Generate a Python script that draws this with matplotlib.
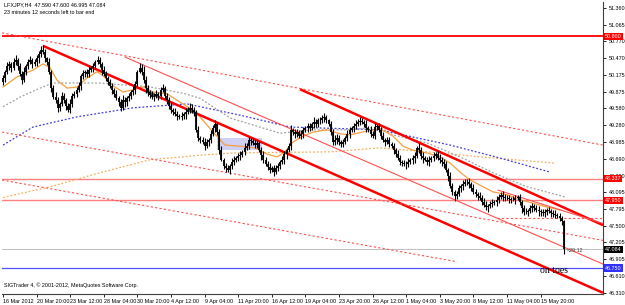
import matplotlib
matplotlib.use("Agg")
import matplotlib.pyplot as plt
import numpy as np
from matplotlib.patches import Rectangle
import matplotlib.transforms as mtransforms

plt.rcParams["font.family"] = ["Liberation Sans", "DejaVu Sans"]

# ---------------- data ----------------
closes = [
    50.12, 50.23, 50.33, 50.37, 50.30, 50.40, 50.44, 50.33, 50.19, 50.08, 50.23, 50.33, 50.40, 50.44, 50.37, 50.40, 50.47,
    50.55, 50.62, 50.58, 50.47, 50.40, 50.23, 49.94, 49.78, 49.73, 49.59, 49.66, 49.80, 49.73, 49.62, 49.55, 49.66, 49.80, 49.84, 49.91, 49.98,
    50.16, 50.21, 50.23, 50.19, 50.26, 50.30, 50.33, 50.40, 50.44, 50.37, 50.26, 50.19, 50.12, 50.05, 49.98, 49.91, 49.84, 49.76, 49.69, 49.59,
    49.73, 49.69, 49.76, 49.80, 49.87, 49.91, 50.01, 50.23, 50.30, 50.23, 50.08, 49.94, 49.87, 49.82, 49.78, 49.80, 49.84, 49.80, 49.91, 49.94,
    49.80, 49.73, 49.62, 49.55, 49.52, 49.48, 49.45, 49.43, 49.45, 49.48, 49.52, 49.55, 49.59, 49.55, 49.52, 49.20, 49.06, 49.02, 48.98, 48.91,
    48.98, 49.02, 49.13, 49.23, 49.30, 49.16, 48.84, 48.67, 48.56, 48.52, 48.49, 48.56, 48.63, 48.67, 48.70, 48.74, 48.75, 48.81, 48.88, 48.91,
    49.02, 49.00, 48.97, 48.93, 48.97, 48.84, 48.75, 48.67, 48.59, 48.54, 48.49, 48.52, 48.45, 48.52, 48.56, 48.63, 48.67, 48.77, 48.84, 48.91,
    49.20, 49.16, 49.13, 49.16, 49.09, 49.13, 49.20, 49.23, 49.27, 49.23, 49.30, 49.34, 49.30, 49.37, 49.37, 49.41, 49.43, 49.37, 49.30, 49.16,
    48.98, 49.02, 49.06, 48.98, 48.95, 48.98, 49.06, 49.13, 49.20, 49.23, 49.27, 49.30, 49.34, 49.36, 49.34, 49.30, 49.23, 49.20, 49.13, 49.09,
    49.25, 49.27, 49.20, 49.09, 49.02, 48.98, 49.02, 48.95, 48.91, 48.84, 48.77, 48.70, 48.63, 48.61, 48.59, 48.59, 48.63, 48.67, 48.70, 48.74,
    48.88, 48.84, 48.74, 48.70, 48.67, 48.63, 48.67, 48.70, 48.74, 48.77, 48.70, 48.67, 48.63, 48.59, 48.49, 48.38, 48.20, 48.10, 48.03, 48.06,
    48.17, 48.20, 48.24, 48.28, 48.28, 48.24, 48.17, 48.10, 48.06, 48.03, 47.99, 47.92, 47.87, 47.83, 47.85, 47.89, 47.90, 47.92, 47.96, 48.01,
    48.05, 48.01, 47.99, 47.99, 47.97, 47.96, 47.96, 47.99, 48.01, 47.92, 47.81, 47.74, 47.74, 47.76, 47.81, 47.85, 47.81, 47.78, 47.76, 47.74,
    47.73, 47.74, 47.78, 47.76, 47.73, 47.71, 47.69, 47.67, 47.64, 47.59, 47.084,
]
first_open = 50.05
# upper / lower wicks in pips (0.01)
wick_up = [
    6, 4, 8, 5, 3, 7, 9, 4, 5, 6, 8, 3, 5, 7, 4, 6, 5, 4, 7, 9,
    5, 3, 8, 4, 6, 9, 5, 4, 7, 6, 3, 5, 8, 6, 4, 5, 7, 3, 6, 4,
    5, 8, 4, 6, 3, 7, 5, 4, 8, 6, 4, 6, 5, 3, 7, 4, 6, 8, 5, 4,
    6, 3, 7, 5, 4, 9, 6, 10, 8, 5, 4, 7, 5, 6, 3, 5, 8, 4, 6, 5,
    7, 4, 6, 5, 3, 6, 4, 7, 5, 8, 6, 5, 4, 7, 3, 6, 8, 5, 4, 6,
    5, 7, 4, 6, 8, 3, 5, 6, 4, 7, 6, 4, 5, 7, 3, 8, 5, 6, 4, 5,
    7, 5, 4, 6, 8, 4, 5, 7, 3, 6, 5, 6, 4, 7, 5, 3, 6, 8, 4, 5,
    6, 4, 7, 5, 3, 6, 5, 4, 8, 6, 4, 6, 5, 7, 4, 3, 6, 5, 8, 7,
    5, 4, 6, 3, 7, 5, 4, 6, 8, 5, 6, 5, 4, 7, 3, 6, 5, 8, 4, 6,
    5, 7, 4, 6, 5, 3, 6, 4, 7, 5, 4, 6, 5, 7, 3, 5, 6, 4, 8, 5,
    6, 4, 5, 7, 4, 6, 3, 5, 7, 4, 5, 6, 4, 8, 5, 3, 6, 5, 4, 7,
    4, 5, 6, 3, 7, 5, 4, 6, 5, 8, 6, 4, 5, 7, 3, 6, 5, 4, 6, 5,
    5, 6, 4, 7, 5, 3, 6, 4, 5, 7, 4, 5, 6, 3, 5, 7, 4, 6, 5, 4,
    6, 4, 5, 7, 4, 5, 3, 1,
]
wick_dn = [
    5, 7, 4, 6, 8, 3, 5, 6, 4, 7, 4, 6, 5, 3, 7, 4, 6, 8, 5, 4,
    6, 5, 4, 7, 3, 6, 8, 5, 4, 6, 7, 4, 6, 5, 3, 6, 4, 7, 5, 8,
    5, 6, 4, 7, 5, 3, 6, 8, 4, 5, 6, 4, 7, 5, 3, 6, 5, 4, 8, 6,
    4, 6, 5, 7, 4, 3, 6, 5, 8, 7, 5, 4, 6, 3, 7, 5, 4, 6, 8, 5,
    6, 5, 4, 7, 3, 6, 5, 8, 4, 6, 5, 7, 4, 6, 5, 3, 6, 4, 7, 5,
    4, 6, 5, 7, 3, 5, 6, 4, 8, 5, 6, 4, 5, 7, 4, 6, 3, 5, 7, 4,
    5, 6, 4, 8, 5, 3, 6, 5, 4, 7, 4, 5, 6, 3, 7, 9, 4, 6, 5, 8,
    6, 4, 5, 7, 3, 6, 5, 4, 6, 5, 5, 6, 4, 7, 5, 3, 6, 4, 5, 7,
    4, 5, 6, 3, 5, 7, 4, 6, 5, 4, 6, 4, 5, 7, 4, 5, 3, 6, 5, 4,
    5, 4, 6, 3, 5, 4, 6, 5, 4, 5, 6, 4, 8, 5, 3, 7, 9, 4, 5, 6,
    8, 3, 5, 7, 4, 6, 5, 4, 6, 7, 7, 3, 8, 4, 6, 9, 5, 4, 7, 6,
    3, 5, 8, 6, 4, 5, 7, 3, 6, 4, 5, 8, 4, 6, 3, 7, 5, 4, 8, 6,
    4, 6, 5, 3, 7, 4, 6, 8, 5, 4, 6, 3, 7, 5, 4, 9, 6, 5, 8, 5,
    4, 7, 5, 6, 3, 5, 8, 9,
]

x_labels = ["16 Mar 2012", "20 Mar 20:00", "23 Mar 12:00", "28 Mar 04:00", "30 Mar 20:00",
            "4 Apr 12:00", "9 Apr 04:00", "11 Apr 20:00", "16 Apr 12:00", "19 Apr 04:00",
            "23 Apr 20:00", "26 Apr 12:00", "1 May 04:00", "3 May 20:00", "8 May 12:00",
            "11 May 04:00", "15 May 20:00"]
bars_per_label = 16

y_ticks = [51.360, 51.065, 50.770, 50.470, 50.175, 49.875, 49.580, 49.280, 48.985,
           48.690, 48.390, 48.095, 47.795, 47.500, 47.205, 46.905, 46.610, 46.310]

# moving averages sampled (bar index, price)
ma_fast_x = [0, 6.7, 14.3, 19.0, 22.4, 25.7, 30.5, 35.2, 40.0, 44.8, 47.6, 52.4, 57.1, 61.9, 66.7, 71.4,
             78.1, 84.3, 90.5, 93.8, 100.0, 105.7, 112.9, 120.0, 125.7, 130.5, 134.3, 137.6, 141.4,
             147.6, 154.3, 160.5, 165.2, 171.0, 179.5, 185.7, 190.5, 195.2, 201.9, 208.1, 212.9,
             217.6, 222.4, 227.1, 233.3, 240.0, 246.2, 252.4, 259.0, 265.2]
ma_fast_y = [49.96, 50.14, 50.26, 50.37, 50.30, 50.08, 49.94, 49.96, 50.12, 50.23, 50.16, 49.98, 49.87,
             49.91, 49.96, 49.87, 49.84, 49.69, 49.55, 49.43, 49.16, 48.93, 48.91, 48.88, 48.77, 48.72,
             48.81, 48.97, 49.06, 49.16, 49.20, 49.13, 49.11, 49.16, 49.22, 49.09, 48.91, 48.84, 48.79,
             48.72, 48.61, 48.45, 48.31, 48.22, 48.10, 48.05, 47.96, 47.90, 47.83, 47.78]
ma_mid_x = [0, 8.1, 17.6, 23.8, 46.2, 70.0, 85.7, 93.8, 108.1, 131.9, 147.6, 163.8, 179.5, 185.7,
            201.9, 217.6, 233.3, 249.5, 267.6]
ma_mid_y = [49.61, 49.78, 49.94, 50.03, 50.03, 49.96, 49.85, 49.76, 49.41, 49.14, 49.20, 49.20, 49.25,
            49.11, 48.97, 48.72, 48.44, 48.19, 48.01]
ma_slow_x = [0, 14.3, 35.2, 61.9, 87.6, 112.9, 136.7, 179.5, 212.9, 236.7, 260.5]
ma_slow_y = [48.93, 49.25, 49.43, 49.59, 49.66, 49.46, 49.25, 49.20, 48.93, 48.70, 48.45]
ma_long_x = [0, 22.4, 46.2, 70.0, 93.8, 109.5, 155.7, 179.5, 201.9, 233.3, 262.9]
ma_long_y = [48.00, 48.19, 48.44, 48.67, 48.75, 48.79, 48.81, 48.88, 48.81, 48.70, 48.61]

# trend lines: (x0, y0, x1, y1) in (bar, price)
thick_lines = [(19.0, 50.69, 285.7, 46.31), (141.4, 49.92, 285.7, 47.51)]
thin_lines = [(58.1, 50.49, 285.7, 46.82), (235.7, 48.13, 285.7, 47.54)]
dotted_lines = [(-0.5, 50.92, 285.7, 48.93), (-0.5, 49.16, 285.7, 47.24),
                (-0.5, 48.31, 216.2, 46.86), (235.0, 47.64, 285.7, 47.64)]

hlines = {"50.860": (50.860, "#ff0000", 1.3), "48.337": (48.337, "#ff8080", 1.0),
          "47.950": (47.950, "#ff8080", 1.0), "47.084": (47.084, "#c0c0c0", 0.7),
          "46.750": (46.750, "#5050ff", 0.9)}

# ---------------- figure ----------------
W, H = 625, 305
FS = 3.9
fig = plt.figure(figsize=(W / 100, H / 100), dpi=100)
fig.patch.set_facecolor("white")
ax = fig.add_axes([2 / W, 11 / H, 601 / W, 292 / H])
ax.set_xlim(-0.5, 285.7)
ax.set_ylim(46.289, 51.467)

n = len(closes)
xs = np.arange(n)
opens = [first_open] + closes[:-1]
highs = [max(o, c) + u / 100 for o, c, u in zip(opens, closes, wick_up)]
lows = [min(o, c) - d / 100 for o, c, d in zip(opens, closes, wick_dn)]

for key, (lvl, col, lw) in hlines.items():
    ax.axhline(lvl, color=col, lw=lw, zorder=2)

ax.add_patch(Rectangle((101.9, 48.843), 21.4, 0.212, facecolor="#d0d0f4", edgecolor="none", zorder=1))

ax.plot(ma_long_x, ma_long_y, color="#f5b060", lw=0.9, ls=(0, (1.5, 1.5)), zorder=2)
ax.plot(ma_slow_x, ma_slow_y, color="#4040e0", lw=0.9, ls=(0, (1.5, 1.5)), zorder=2)
ax.plot(ma_mid_x, ma_mid_y, color="#a0a0a0", lw=0.9, ls=(0, (1.5, 1.5)), zorder=2)
ax.plot(ma_fast_x, ma_fast_y, color="#f5a040", lw=0.9, zorder=3)

for (x0, y0, x1, y1) in thick_lines:
    ax.plot([x0, x1], [y0, y1], color="#ff0000", lw=1.8, zorder=4, solid_capstyle="butt")
for (x0, y0, x1, y1) in thin_lines:
    ax.plot([x0, x1], [y0, y1], color="#ff5050", lw=0.8, zorder=4)
for (x0, y0, x1, y1) in dotted_lines:
    ax.plot([x0, x1], [y0, y1], color="#ff5050", lw=0.8, ls=(0, (2, 2)), zorder=4)

ax.vlines(xs, lows, highs, color="black", lw=0.8, zorder=5)
ax.vlines(xs, np.minimum(opens, closes), np.maximum(opens, closes), color="black", lw=1.3, zorder=5)

for s in ["left", "top"]:
    ax.spines[s].set_visible(False)
for s in ["right", "bottom"]:
    ax.spines[s].set_color("#404040")
    ax.spines[s].set_linewidth(0.8)
ax.yaxis.tick_right()
ax.set_yticks(y_ticks)
ax.set_yticklabels([f"{v:.3f}" for v in y_ticks])
ax.tick_params(axis="y", labelsize=FS, length=2.5, width=0.6, pad=1.5, colors="black")
ticks_x = [i * bars_per_label for i in range(len(x_labels))]
ax.set_xticks(ticks_x)
ax.set_xticklabels(x_labels)
ax.tick_params(axis="x", labelsize=FS, length=2.5, width=0.6, pad=1)
for lab in ax.get_xticklabels():
    lab.set_horizontalalignment("left")

trans = mtransforms.blended_transform_factory(ax.transAxes, ax.transData)
boxes = [(50.860, "50.860", "#ff0000", "white"), (48.337, "48.337", "#ff0000", "white"),
         (47.950, "47.950", "#ff0000", "white"), (47.084, "47.084", "black", "white"),
         (46.750, "46.750", "#3030ff", "white")]
for val, txt, bg, fg in boxes:
    ax.text(1.003, val, txt, transform=trans, fontsize=FS, color=fg, va="center", ha="left",
            bbox=dict(boxstyle="square,pad=0.2", facecolor=bg, edgecolor="none"), clip_on=False, zorder=10)

fig.text(4 / W, 1 - 5 / H, "LFXJPY,H4  47.590 47.600 46.995 47.084", fontsize=FS, va="center", ha="left")
fig.text(4 / W, 1 - 12 / H, "23 minutes 12 seconds left to bar end", fontsize=FS, va="center", ha="left")
fig.text(4 / W, 1 - 285 / H, "SIGTrader 4, \u00a9 2001-2012, MetaQuotes Software Corp.", fontsize=FS,
         va="center", ha="left")
ax.text(255.5, 46.70, "on toes", fontsize=7, family="Liberation Serif", ha="left", va="center", zorder=8)
ax.text(268.5, 47.06, "<29:12", fontsize=FS, color="#404040", ha="left", va="center", zorder=8)

fig.savefig("out.png", dpi=100, facecolor="white")
